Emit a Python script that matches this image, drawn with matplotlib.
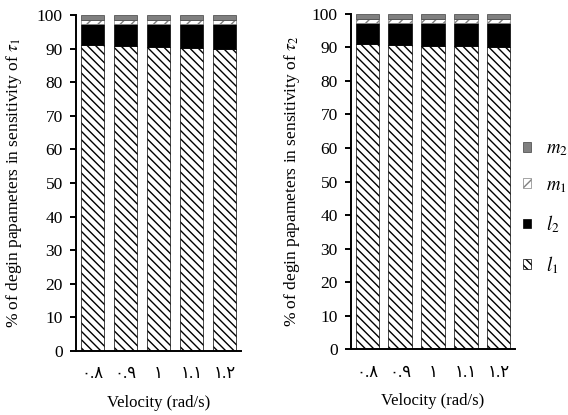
import matplotlib
matplotlib.use("Agg")
from matplotlib import pyplot as plt
import numpy as np

velocity_labels = ["٠.٨", "٠.٩", "١", "١.١", "١.٢"]

# share (%) of each design parameter, tau_1
tau1_l1 = [91.0, 90.9, 90.6, 90.3, 90.0]
tau1_l2 = [6.3, 6.4, 6.7, 7.0, 7.3]
tau1_m1 = [1.1, 1.1, 1.1, 1.1, 1.1]
tau1_m2 = [1.6, 1.6, 1.6, 1.6, 1.6]

# tau_2
tau2_l1 = [91.0, 90.8, 90.5, 90.3, 90.0]
tau2_l2 = [6.2, 6.4, 6.7, 6.9, 7.2]
tau2_m1 = [1.2, 1.2, 1.2, 1.2, 1.2]
tau2_m2 = [1.6, 1.6, 1.6, 1.6, 1.6]

plt.rcParams["font.family"] = ["Liberation Serif", "DejaVu Sans"]
plt.rcParams["mathtext.fontset"] = "stix"
plt.rcParams["hatch.linewidth"] = 1.0

fig = plt.figure(figsize=(5.68, 4.15), dpi=100)
ax1 = fig.add_axes([0.134, 0.154, 0.2905, 0.810])
ax2 = fig.add_axes([0.618, 0.158, 0.2887, 0.809])


def draw(ax, l1, l2, m1, m2, sub):
    x = np.arange(len(velocity_labels))
    w = 0.72
    b = np.zeros(len(x))
    h1 = ax.bar(x, l1, w, bottom=b, color="white", edgecolor="black", hatch="\\\\\\\\", linewidth=0.5, label=r"$l_1$")
    b += l1
    h2 = ax.bar(x, l2, w, bottom=b, color="black", edgecolor="black", linewidth=0.5, label=r"$l_2$")
    b += l2
    h3 = ax.bar(x, m1, w, bottom=b, color="white", edgecolor="#808080", hatch="///", linewidth=0.5, label=r"$m_1$")
    b += m1
    h4 = ax.bar(x, m2, w, bottom=b, color="#808080", edgecolor="#404040", linewidth=0.5, label=r"$m_2$")
    ax.set_xlim(-0.5, 4.5)
    ax.set_ylim(0, 100)
    ax.set_yticks(range(0, 101, 10))
    ax.set_xticks(x)
    ax.set_xticklabels(velocity_labels)
    ax.spines["top"].set_visible(False)
    ax.spines["right"].set_visible(False)
    ax.spines["left"].set_linewidth(1.4)
    ax.spines["bottom"].set_linewidth(1.4)
    ax.tick_params(axis="y", direction="out", length=4.5, width=1.4, pad=5, labelsize=12.5)
    ax.tick_params(axis="x", length=0, pad=11, labelsize=12)
    ax.set_xlabel("Velocity (rad/s)", fontsize=12, labelpad=9)
    ax.set_ylabel(r"% of degin papameters in sensitivity of $\tau_" + sub + "$", fontsize=12.5)
    return [h4, h3, h2, h1]


handles = draw(ax1, tau1_l1, tau1_l2, tau1_m1, tau1_m2, "1")
draw(ax2, tau2_l1, tau2_l2, tau2_m1, tau2_m2, "2")
ax1.yaxis.set_label_coords(-0.315, 0.5)
ax2.yaxis.set_label_coords(-0.30, 0.5)

fig.legend(handles, [h.get_label() for h in handles], loc="center left",
           bbox_to_anchor=(523 / 568, 1 - 208 / 415), frameon=False,
           fontsize=13.5, handlelength=0.4, handleheight=0.4, handletextpad=0.8,
           labelspacing=1.0, borderpad=0, borderaxespad=0)

fig.savefig("out.png", dpi=100)
